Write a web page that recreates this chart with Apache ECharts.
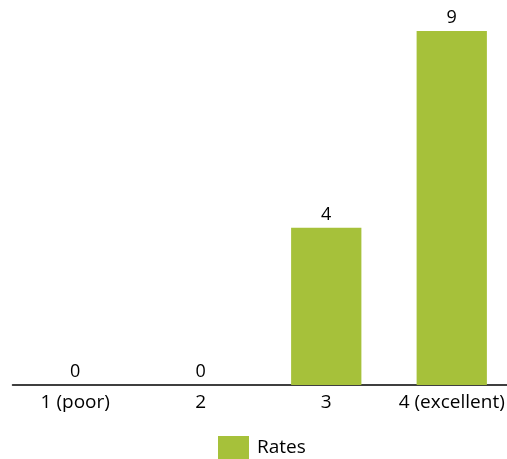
<!DOCTYPE html>
<html>
<head>
<meta charset="utf-8">
<script src="https://cdn.jsdelivr.net/npm/echarts@6/dist/echarts.min.js"></script>
<style>html,body{margin:0;padding:0;background:#fff}#c{width:507px;height:459px}</style>
</head>
<body>
<div id="c"></div>
<script>
const categories = ['1 (poor)', '2', '3', '4 (excellent)'];
const rates = [0, 0, 4, 9];
const seriesName = 'Rates';

const chart = echarts.init(document.getElementById('c'), null, {renderer: 'canvas'});
const font = '"Open Sans", sans-serif';
chart.setOption({
  animation: false,
  textStyle: {fontFamily: font},
  grid: {left: 12.5, right: -7.5, top: 31, bottom: 74, containLabel: false, outerBoundsMode: 'none'},
  legend: {
    data: [seriesName],
    bottom: -6,
    left: 213,
    itemWidth: 31,
    itemHeight: 24,
    itemGap: 10,
    icon: 'rect',
    textStyle: {fontFamily: font, fontSize: 19, color: '#000', padding: [0, 0, 0, 3]}
  },
  xAxis: {
    type: 'category',
    data: categories,
    axisLine: {lineStyle: {color: '#000', width: 1.5}},
    axisTick: {show: false},
    axisLabel: {fontFamily: font, fontSize: 19, color: '#000', margin: 8, interval: 0}
  },
  yAxis: {
    type: 'value',
    min: 0,
    max: 9,
    show: false,
    splitLine: {show: false}
  },
  series: [{
    name: seriesName,
    type: 'bar',
    data: rates,
    barWidth: '56%',
    itemStyle: {color: '#A6C13A'},
    label: {show: true, position: 'top', distance: 4, fontFamily: font, fontSize: 18, color: '#000'}
  }]
});
</script>
</body>
</html>
